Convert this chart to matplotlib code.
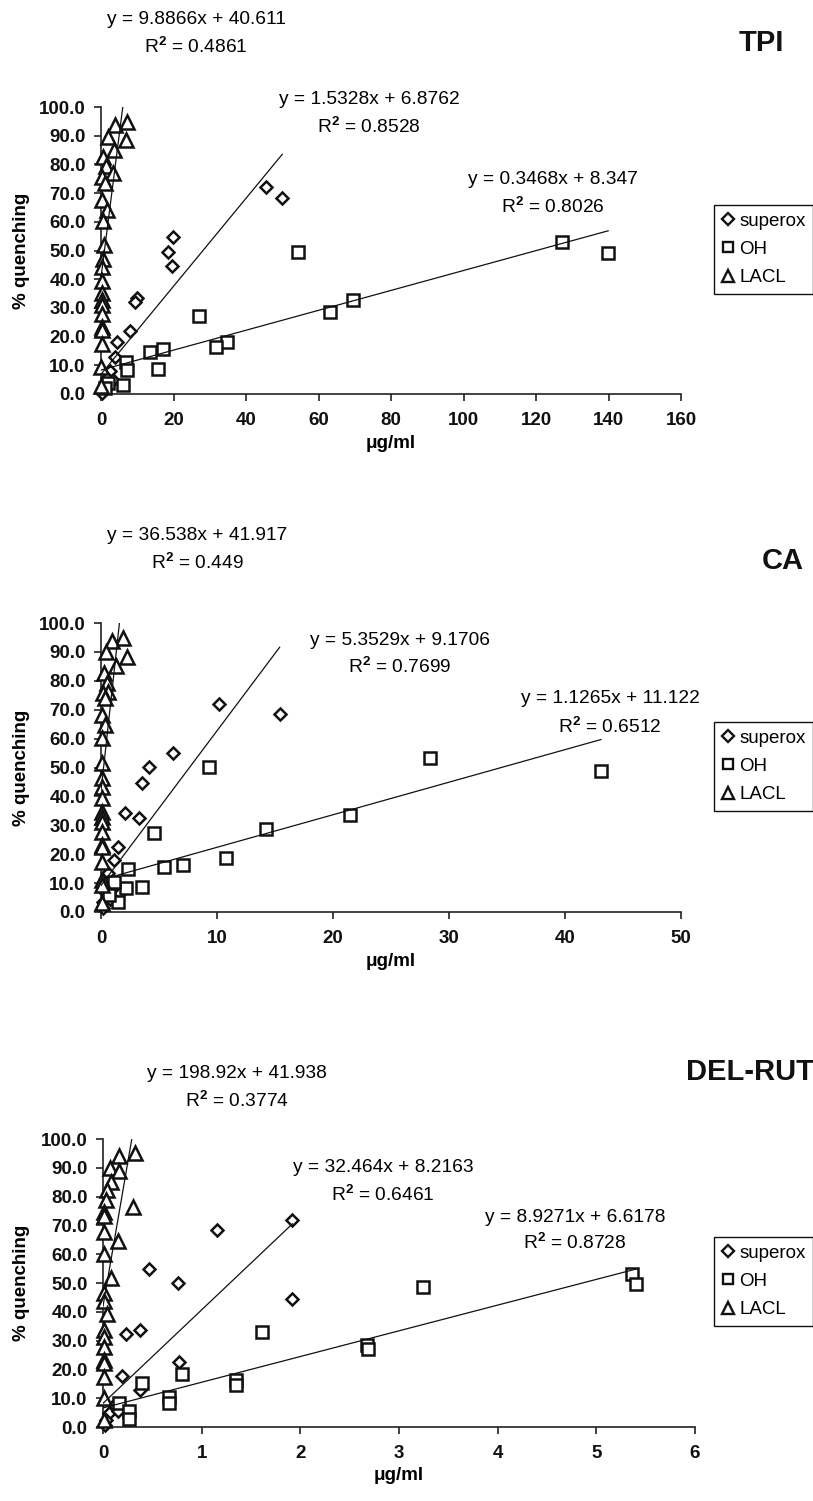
import numpy as np
import matplotlib
matplotlib.use("Agg")
import matplotlib.pyplot as plt
from matplotlib.lines import Line2D

plt.rcParams['font.family'] = ['Liberation Sans', 'DejaVu Sans']
plt.rcParams['mathtext.fontset'] = 'custom'
plt.rcParams['mathtext.rm'] = 'Liberation Sans'
plt.rcParams['font.weight'] = 'bold'

W, H = 813, 1501

# ---------------------------------------------------------------- data
series_names = ["superox", "OH", "LACL"]
panel_titles = ["TPI", "CA", "DEL-RUT"]
x_limits = [160, 50, 6]
x_steps = [20, 10, 1]

# TPI
tpi_sup_x = [45.5, 50.0, 19.9, 18.5, 19.6, 9.9, 9.4, 8.0, 4.4, 3.9, 2.5, 1.6, 1.0, 0.6, 0.3, 3.3]
tpi_sup_y = [72.2, 68.3, 54.7, 49.5, 44.6, 33.4, 32.1, 22.0, 18.1, 13.0, 8.0, 5.5, 3.0, 1.5, 0.5, 5.0]
tpi_oh_x = [139.9, 127.2, 69.6, 63.2, 54.4, 34.8, 31.7, 27.0, 17.2, 15.8, 13.5, 6.8, 7.1, 6.1, 2.0, 1.2]
tpi_oh_y = [49.0, 53.0, 32.8, 28.7, 49.5, 18.2, 16.3, 27.3, 15.6, 8.7, 14.7, 11.0, 8.4, 3.1, 4.0, 2.0]
tpi_lacl_x = [7.1, 3.9, 6.9, 1.9, 3.7, 0.6, 1.4, 3.2, 0.2, 1.1, 0.2, 1.6, 0.5, 0.9, 0.5,
              0.2, 0.4, 0.2, 0.2, 0.2, 0.2, 0.2, 0.2, 0.2, 0.1, 0.1]
tpi_lacl_y = [94.9, 93.7, 88.5, 89.7, 85.0, 82.7, 79.5, 76.9, 75.6, 73.6, 67.6, 64.1, 60.2, 51.9, 47.0,
              44.4, 39.5, 35.2, 32.8, 31.0, 28.0, 23.4, 22.3, 17.3, 9.5, 2.9]

# CA
ca_sup_x = [10.2, 15.4, 6.2, 4.1, 3.5, 2.1, 3.3, 1.5, 1.1, 0.6, 0.35, 0.2, 0.15, 1.6, 0.8]
ca_sup_y = [71.9, 68.4, 54.9, 50.1, 44.5, 34.2, 32.4, 22.6, 18.0, 13.4, 7.0, 3.6, 1.3, 6.5, 4.5]
ca_oh_x = [43.1, 28.4, 21.5, 14.2, 10.75, 9.3, 7.1, 5.4, 4.6, 3.5, 2.35, 2.15, 1.1, 1.5, 0.7]
ca_oh_y = [48.8, 53.2, 33.6, 28.8, 18.8, 50.1, 16.3, 15.7, 27.4, 8.8, 14.8, 8.2, 10.5, 3.6, 6.0]
ca_lacl_x = [1.87, 0.92, 2.27, 0.43, 1.3, 0.26, 0.55, 0.63, 0.15, 0.34, 0.1, 0.34, 0.1, 0.1,
             0.1, 0.1, 0.12, 0.1, 0.1, 0.1, 0.1, 0.1, 0.1, 0.1, 0.1, 0.1, 0.1]
ca_lacl_y = [94.9, 93.8, 88.3, 89.9, 85.2, 82.6, 79.1, 76.2, 75.7, 73.9, 68.2, 64.7, 60.1, 51.4,
             46.3, 43.3, 39.3, 34.7, 33.0, 31.0, 27.8, 23.2, 22.5, 17.4, 11.0, 9.5, 3.0]

# DEL-RUT
del_sup_x = [1.92, 1.16, 0.47, 0.76, 1.92, 0.38, 0.23, 0.77, 0.19, 0.38, 0.11, 0.06, 0.03, 0.02, 0.15]
del_sup_y = [71.9, 68.4, 54.8, 49.9, 44.3, 33.7, 32.3, 22.5, 17.8, 12.8, 7.6, 4.7, 2.4, 0.7, 5.5]
del_oh_x = [5.36, 5.40, 3.24, 1.61, 2.68, 2.69, 0.80, 0.40, 1.35, 1.35, 0.67, 0.67, 0.16, 0.26, 0.26]
del_oh_y = [53.1, 49.7, 48.7, 32.9, 28.5, 27.0, 18.4, 15.4, 16.4, 14.5, 10.3, 8.4, 8.2, 5.7, 2.7]
del_lacl_x = [0.325, 0.16, 0.07, 0.16, 0.08, 0.045, 0.03, 0.30, 0.01, 0.01, 0.155, 0.01, 0.01,
              0.08, 0.01, 0.01, 0.045, 0.01, 0.01, 0.01, 0.01, 0.01, 0.01, 0.01, 0.01]
del_lacl_y = [95.0, 94.1, 89.8, 89.0, 85.2, 82.3, 78.8, 76.5, 74.8, 73.3, 64.7, 67.8, 60.1,
              51.6, 46.4, 43.9, 39.2, 33.7, 31.4, 27.9, 23.3, 22.1, 17.5, 10.0, 2.5]

# trendline coefficients (slope, intercept, R^2) as printed: superox, OH, LACL
tpi_fits = [(1.5328, 6.8762, "0.8528"), (0.3468, 8.347, "0.8026"), (9.8866, 40.611, "0.4861")]
ca_fits = [(5.3529, 9.1706, "0.7699"), (1.1265, 11.122, "0.6512"), (36.538, 41.917, "0.449")]
del_fits = [(32.464, 8.2163, "0.6461"), (8.9271, 6.6178, "0.8728"), (198.92, 41.938, "0.3774")]
tpi_eq = ["y = 1.5328x + 6.8762", "y = 0.3468x + 8.347", "y = 9.8866x + 40.611"]
ca_eq = ["y = 5.3529x + 9.1706", "y = 1.1265x + 11.122", "y = 36.538x + 41.917"]
del_eq = ["y = 32.464x + 8.2163", "y = 8.9271x + 6.6178", "y = 198.92x + 41.938"]

panels = [
    ([(tpi_sup_x, tpi_sup_y), (tpi_oh_x, tpi_oh_y), (tpi_lacl_x, tpi_lacl_y)], tpi_fits, tpi_eq),
    ([(ca_sup_x, ca_sup_y), (ca_oh_x, ca_oh_y), (ca_lacl_x, ca_lacl_y)], ca_fits, ca_eq),
    ([(del_sup_x, del_sup_y), (del_oh_x, del_oh_y), (del_lacl_x, del_lacl_y)], del_fits, del_eq),
]

# ---------------------------------------------------------------- layout (pixels)
ax_boxes = [(101, 681, 107, 394), (101, 681, 623, 912), (103, 695, 1139, 1427)]
eq_pos = [
    [(369, 99, 127), (553, 180, 207), (196, 20, 47)],
    [(400, 640, 667), (610, 698, 727), (197, 535, 563)],
    [(383, 1168, 1195), (575, 1217, 1243), (237, 1073, 1101)],
]
title_pos = [(761, 43), (783, 561), (750, 1072)]
legend_top = [205, 722, 1237]

markers = ['D', 's', '^']
msizes = [6.5, 8.0, 10.0]

fig = plt.figure(figsize=(W / 100, H / 100), dpi=100)

for p, (series, fits, eqs) in enumerate(panels):
    l, r, t, b = ax_boxes[p]
    ax = fig.add_axes([l / W, 1 - b / H, (r - l) / W, (b - t) / H])

    for k, (xs, ys) in enumerate(series):
        ax.plot(xs, ys, linestyle='none', marker=markers[k], markersize=msizes[k],
                markerfacecolor='white', markeredgecolor='#111111', markeredgewidth=1.8,
                clip_on=False, zorder=3)

    for k, (xs, ys) in enumerate(series):
        m, c, r2 = fits[k]
        xx = np.array([0.0, max(xs)])
        ax.plot(xx, m * xx + c, color='#111111', lw=0.9, zorder=4)

        cx, y1, y2 = eq_pos[p][k]
        fig.text(cx / W, 1 - y1 / H, eqs[k], ha='center', va='center',
                 fontsize=13.8, fontweight='normal', color='#000000')
        fig.text(cx / W, 1 - y2 / H, "R$^2$ = " + r2, ha='center', va='center',
                 fontsize=13.8, fontweight='normal', color='#000000')

    ax.set_xlim(0, x_limits[p])
    ax.set_ylim(0, 100)
    ax.set_xticks(np.arange(0, x_limits[p] + 0.001, x_steps[p]))
    ax.set_yticks(np.arange(0, 100.1, 10))
    ax.set_yticklabels(["%.1f" % v for v in np.arange(0, 100.1, 10)])
    ax.set_xticklabels(["%d" % v for v in np.arange(0, x_limits[p] + 0.001, x_steps[p])])

    for s in ['top', 'right']:
        ax.spines[s].set_visible(False)
    for s in ['left', 'bottom']:
        ax.spines[s].set_linewidth(1.2)
        ax.spines[s].set_color('#222222')
    ax.tick_params(direction='out', length=5, width=1.2, color='#222222',
                   labelsize=13.5, pad=6, labelcolor='#111111')
    ax.tick_params(axis='x', pad=8)

    ax.set_xlabel("μg/ml", fontsize=13.5, fontweight='bold')
    ax.xaxis.set_label_coords(0.5, -49 / (b - t))
    ax.xaxis.label.set_va('center')
    ax.set_ylabel("% quenching", fontsize=13.5, fontweight='bold')
    ax.yaxis.set_label_coords((22 - l) / (r - l), 0.5)
    ax.yaxis.label.set_va('center')

    tx, ty = title_pos[p]
    fig.text(tx / W, 1 - ty / H, panel_titles[p], ha='center', va='center',
             fontsize=21, fontweight='bold', color='#111111')

    handles = [Line2D([], [], linestyle='none', marker=markers[k], markersize=msizes[k] * 0.9,
                      markerfacecolor='white', markeredgecolor='#111111', markeredgewidth=1.7)
               for k in range(3)]
    leg = fig.legend(handles, series_names, loc='upper left',
                     bbox_to_anchor=(714 / W, 1 - legend_top[p] / H),
                     bbox_transform=fig.transFigure, borderaxespad=0,
                     frameon=True, fancybox=False, framealpha=1, edgecolor='#111111',
                     prop={'size': 13.5, 'weight': 'normal'}, handlelength=0.7,
                     handletextpad=0.25, labelspacing=0.6, borderpad=0.4)
    leg.get_frame().set_linewidth(1.0)

fig.savefig("out.png", dpi=100)
